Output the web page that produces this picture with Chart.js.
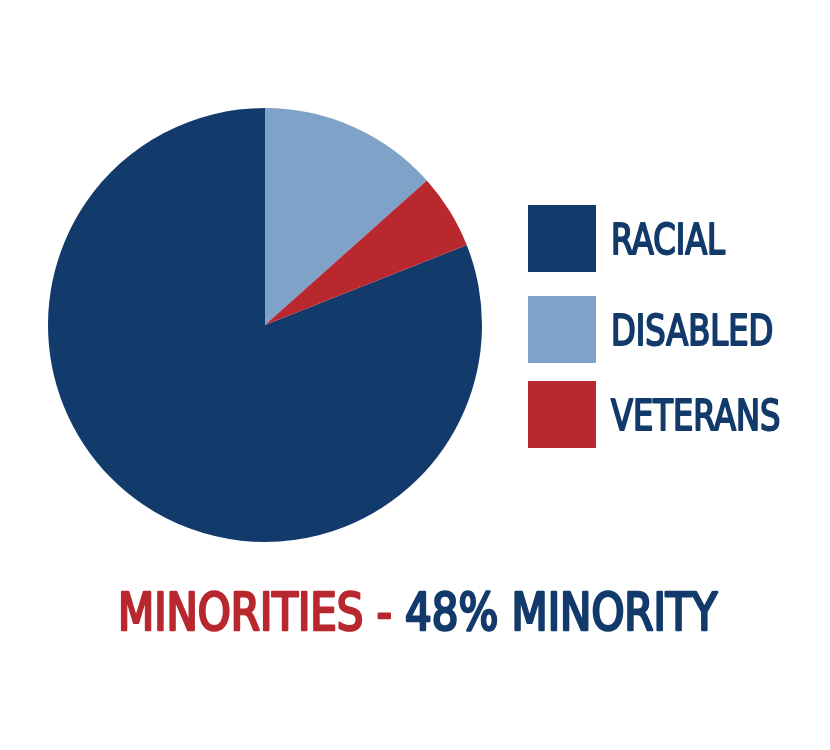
<!DOCTYPE html>
<html>
<head>
<meta charset="utf-8">
<script src="https://cdn.jsdelivr.net/npm/chart.js@4/dist/chart.umd.min.js"></script>
<style>
  html, body { margin: 0; padding: 0; background: #fff; }
  #wrap { width: 830px; height: 750px; position: relative; }
</style>
</head>
<body>
<div id="wrap"><canvas id="pie-minorias"></canvas></div>
<script>
// Dados do gráfico
const categorias = ["RACIAL", "DISABLED", "VETERANS"];
const valores = [81.0, 13.4, 5.6];
const cores = ["#123a6b", "#7ea2c8", "#b8282e"];
const tituloVermelho = "MINORITIES - ";
const tituloAzul = "48% MINORITY";

const fonte = "'Liberation Sans Narrow', 'DejaVu Sans Condensed', sans-serif";

// Texto com peso intermediário (preenchimento + contorno fino)
function textoMedio(ctx, texto, x, y, cor, espessura) {
    ctx.fillStyle = cor;
    ctx.strokeStyle = cor;
    ctx.lineWidth = espessura;
    ctx.lineJoin = "round";
    ctx.fillText(texto, x, y);
    ctx.strokeText(texto, x, y);
}

// Legenda desenhada à mão (caixas grandes à direita)
const legendaPlugin = {
    id: "legendaGrande",
    afterDraw(chart) {
        const ctx = chart.ctx;
        const tops = [205, 296, 381];
        ctx.save();
        ctx.font = "42px " + fonte;
        // estreita o texto para parecer com a fonte condensada do original
        const escalaLeg = 114 / ctx.measureText("RACIAL").width;
        chart.data.labels.forEach((label, i) => {
            ctx.fillStyle = chart.data.datasets[0].backgroundColor[i];
            ctx.fillRect(528, tops[i], 68, 67);
            ctx.save();
            ctx.translate(611, tops[i] + 49);
            ctx.scale(escalaLeg, 1);
            ctx.textBaseline = "alphabetic";
            textoMedio(ctx, label, 0, 0, "#123a6b", 2.0);
            ctx.restore();
        });

        // Título em duas cores
        ctx.font = "51px " + fonte;
        ctx.textBaseline = "alphabetic";
        const w1 = ctx.measureText(tituloVermelho).width;
        const w2 = ctx.measureText(tituloAzul).width;
        const escalaTit = 599 / (w1 + w2);
        ctx.translate(118, 630);
        ctx.scale(escalaTit, 1);
        textoMedio(ctx, tituloVermelho, 0, 0, "#b8282e", 2.6);
        textoMedio(ctx, tituloAzul, w1, 0, "#123a6b", 2.6);
        ctx.restore();
    }
};

new Chart(document.getElementById("pie-minorias").getContext("2d"), {
    type: "pie",
    data: {
        labels: categorias,
        datasets: [{
            data: valores,
            backgroundColor: cores,
            borderWidth: 0,
        }],
    },
    options: {
        responsive: true,
        maintainAspectRatio: false,
        animation: false,
        rotation: 68.4,
        layout: {
            padding: { left: 48, top: 108, right: 348, bottom: 208 }
        },
        plugins: {
            legend: { display: false },
            tooltip: { enabled: false },
        },
    },
    plugins: [legendaPlugin],
});
</script>
</body>
</html>
